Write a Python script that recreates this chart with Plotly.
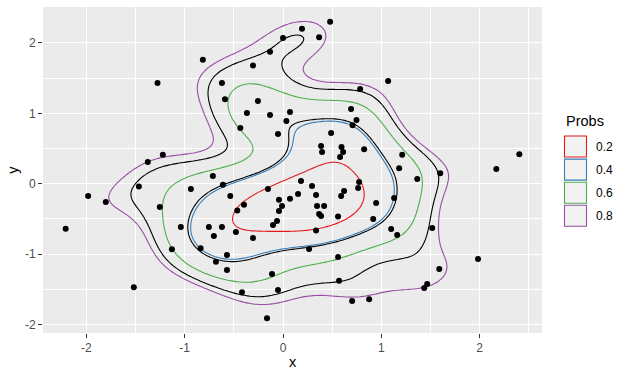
import numpy as np
import plotly.graph_objects as go

# ---- data: scatter points ----
x_vals = [-0.815, -1.276, -1.222, -1.375, 0.479, 0.193, 0.0, 0.367, -0.132, -0.305,
          -0.621, -0.59, -0.255, 0.784, 0.692, 0.747, 0.707, -0.367, -0.132, 0.071,
          0.034, -0.434, -0.051, 0.489, 0.387, 0.397, 0.595, 0.611, 0.580, 0.825,
          1.069, 1.212, 1.181, 1.599, 2.403, 2.169, -1.466, -1.982, -1.802, -2.21,
          -0.937, -1.253, -1.039, -0.754, -1.130, -0.838, -1.517, -0.713, -0.611, -0.536,
          -0.397, -0.465, -0.153, -0.041, -0.01, -0.041, -0.061, -0.102, 0.071, 0.153,
          0.183, 0.295, 0.336, 0.346, 0.418, 0.367, 0.387, 0.56, 0.336, 0.591,
          0.621, 0.764, 0.774, -0.621, -0.703, -0.479, -0.305, -0.570, -0.682, -0.570,
          -0.112, 0.265, 0.56, 0.570, -0.417, -0.051, 0.703, 0.876, -0.163, 1.365,
          1.130, 0.947, 0.917, 1.100, 1.161, 1.517, 1.983, 1.589, 1.466, 1.436]
y_vals = [1.76, 1.43, 0.41, 0.31, 2.30, 2.20, 2.07, 2.08, 1.875, 1.68,
          1.43, 1.20, 1.175, 1.345, 1.06, 0.905, 0.83, 1.004, 0.976, 1.018,
          0.89, 0.79, 0.706, 0.72, 0.535, 0.45, 0.52, 0.45, 0.38, 0.49,
          1.46, 0.41, 0.22, 0.15, 0.42, 0.21, -0.04, -0.175, -0.26, -0.64,
          -0.075, -0.33, -0.615, -0.615, -0.93, -0.915, -1.47, 0.109, -0.014, -0.175,
          -0.30, -0.38, -0.075, -0.227, -0.317, -0.388, -0.53, -0.587, -0.213, -0.146,
          0.038, -0.033, -0.16, -0.317, -0.317, -0.43, -0.46, -0.464, -0.663, -0.175,
          -0.104, -0.061, 0.024, -0.615, -0.743, -0.686, -0.771, -1.013, -1.11, -1.226,
          -1.283, -0.928, -1.04, -1.38, -1.54, -1.51, -1.666, -1.64, -1.91, 0.067,
          -0.203, -0.274, -0.50, -0.643, -0.729, -0.629, -1.07, -1.21, -1.425, -1.48]

probs = [0.2, 0.4, 0.6, 0.8]
prob_labels = ["0.2", "0.4", "0.6", "0.8"]
prob_colors = ["#E41A1C", "#377EB8", "#4DAF4A", "#984EA3"]
extra_probs = [0.42, 0.72]          # the two black contours

x_ticks = [-2, -1, 0, 1, 2]
y_ticks = [-2, -1, 0, 1, 2]
tick_text = ["-2", "-1", "0", "1", "2"]

# ---- KDE (MASS::kde2d style) ----
xa = np.array(x_vals); ya = np.array(y_vals); n = len(xa)

def bw(v):
    q75, q25 = np.percentile(v, [75, 25])
    return 1.06 * min(np.std(v, ddof=1), (q75 - q25) / 1.34) * n ** (-0.2)

def expand(v):
    lo, hi = v.min(), v.max(); d = (hi - lo) * 0.05
    return lo - d, hi + d

hx, hy = bw(xa), bw(ya)

def kde(gx, gy):
    kx = np.exp(-0.5 * ((gx[:, None] - xa[None, :]) / hx) ** 2) / (hx * np.sqrt(2 * np.pi))
    ky = np.exp(-0.5 * ((gy[:, None] - ya[None, :]) / hy) ** 2) / (hy * np.sqrt(2 * np.pi))
    return (ky @ kx.T) / n

# levels from a grid over the data range (as kde2d does by default)
dgx = np.linspace(xa.min(), xa.max(), 100)
dgy = np.linspace(ya.min(), ya.max(), 100)
Zd = kde(dgx, dgy)
sz = np.sort(Zd.ravel())
c1 = np.cumsum(sz) * (dgx[1] - dgx[0]) * (dgy[1] - dgy[0])

def level(p):
    return float(np.interp(1 - p, c1, sz))

xr = expand(xa); yr = expand(ya)
gx = np.linspace(xr[0], xr[1], 160)
gy = np.linspace(yr[0], yr[1], 160)
Z = kde(gx, gy)

fig = go.Figure()

for p in extra_probs:
    lv = level(p)
    fig.add_trace(go.Contour(x=gx, y=gy, z=Z, showscale=False, hoverinfo="skip",
                             contours=dict(start=lv, end=lv, size=1, coloring="none"),
                             line=dict(color="black", width=1.1), showlegend=False))
for p, c in zip(probs, prob_colors):
    lv = level(p)
    fig.add_trace(go.Contour(x=gx, y=gy, z=Z, showscale=False, hoverinfo="skip",
                             contours=dict(start=lv, end=lv, size=1, coloring="none"),
                             line=dict(color=c, width=1.1), showlegend=False))

fig.add_trace(go.Scatter(x=x_vals, y=y_vals, mode="markers",
                         marker=dict(color="black", size=6), showlegend=False,
                         hoverinfo="skip"))

# ---- manual ggplot-like legend ----
W, H = 626, 378
L, R, T, B = 43, 84, 7, 45
pw, ph = W - L - R, H - T - B

def px2paper(px, py):
    return (px - L) / pw, (H - B - py) / ph

shapes = []
tx, ty = px2paper(563.5, 121.5)
annotations = [dict(text="Probs", x=tx, y=ty, xref="paper", yref="paper",
                    showarrow=False, xanchor="left", yanchor="middle",
                    font=dict(size=14.5, color="black"))]
for i, (lab, c) in enumerate(zip(prob_labels, prob_colors)):
    top = 136 + i * 23.1
    x0, y0 = px2paper(564.5, top)
    x1, y1 = px2paper(586.5, top + 21)
    shapes.append(dict(type="rect", xref="paper", yref="paper", x0=x0, x1=x1, y0=y0, y1=y1,
                       line=dict(color=c, width=1.1), fillcolor="#F2F2F2"))
    tx, ty = px2paper(594, top + 10.5)
    annotations.append(dict(text=lab, x=tx, y=ty, xref="paper", yref="paper",
                            showarrow=False, xanchor="left", yanchor="middle",
                            font=dict(size=12, color="black")))

fig.update_layout(
    width=W, height=H, margin=dict(l=L, r=R, t=T, b=B, autoexpand=False),
    paper_bgcolor="white", plot_bgcolor="#EBEBEB",
    font=dict(family="Liberation Sans, Arial, sans-serif", color="black"),
    shapes=shapes, annotations=annotations, showlegend=False,
)
axis_common = dict(showgrid=True, gridcolor="white", gridwidth=1.1, zeroline=False,
                   ticks="outside", ticklen=4, tickcolor="#333333", tickwidth=1.1,
                   tickfont=dict(size=12, color="#4D4D4D"), showline=False,
                   automargin=False,
                   minor=dict(showgrid=True, gridcolor="white", gridwidth=0.5, dtick=0.5))
fig.update_xaxes(range=list(xr), tickvals=x_ticks, ticktext=tick_text,
                 title=dict(text="x", font=dict(size=14.5), standoff=2), **axis_common)
fig.update_yaxes(range=list(yr), tickvals=y_ticks, ticktext=tick_text,
                 title=dict(text="y", font=dict(size=14.5), standoff=2), **axis_common)

fig.write_html("out.html", config={"displayModeBar": False},
               post_script="document.body.style.margin='0px';document.body.style.padding='0px';")
